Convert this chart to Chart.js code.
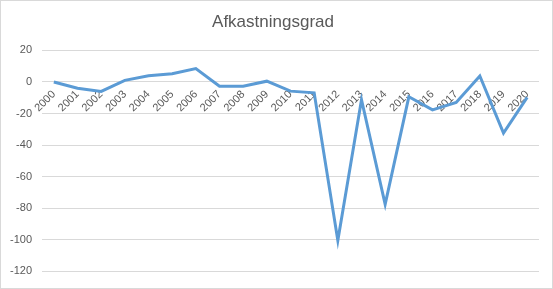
<!DOCTYPE html>
<html>
<head>
<meta charset="utf-8">
<script src="https://cdn.jsdelivr.net/npm/chart.js@4"></script>
<style>
  html, body { margin: 0; padding: 0; background: #fff; }
  #wrap { position: relative; width: 551px; height: 287px; border: 1px solid #d9d9d9; }
</style>
</head>
<body>
<div id="wrap"><canvas id="chart"></canvas></div>
<script>
// Afkastningsgrad per year
const years = ['2000', '2001', '2002', '2003', '2004', '2005', '2006', '2007', '2008', '2009', '2010',
               '2011', '2012', '2013', '2014', '2015', '2016', '2017', '2018', '2019', '2020'];
const afkastningsgrad = [0, -4, -6, 1, 4, 5.2, 8.5, -2.7, -2.7, 0.5, -5.8,
                         -6.9, -100.4, -11.2, -77.5, -9.4, -17.7, -13, 3.8, -32.3, -9.8];
const yTicks = { min: -120, max: 20, step: 20 };

const ctx = document.getElementById('chart');
new Chart(ctx, {
    type: 'line',
    data: {
        labels: years,
        datasets: [{
            label: 'Afkastningsgrad',
            data: afkastningsgrad,
            borderColor: '#5B9BD5',
            borderWidth: 3,
            pointRadius: 0,
            tension: 0,
            fill: false
        }]
    },
    options: {
        responsive: true,
        maintainAspectRatio: false,
        animation: false,
        layout: { padding: { left: 6, right: 13, top: 0, bottom: 1 } },
        plugins: {
            legend: { display: false },
            tooltip: { enabled: false },
            title: {
                display: true,
                text: 'Afkastningsgrad',
                color: '#595959',
                font: { family: '"Liberation Sans", sans-serif', size: 17, weight: 'normal' },
                padding: { top: 11, bottom: 18 }
            }
        },
        scales: {
            x: {
                position: { y: 0 },
                offset: true,
                grid: { display: false, drawTicks: false },
                border: { display: false },
                ticks: {
                    color: '#595959',
                    font: { family: '"Liberation Sans", sans-serif', size: 11 },
                    minRotation: 45,
                    maxRotation: 45,
                    autoSkip: false,
                    padding: 6
                }
            },
            y: {
                min: yTicks.min,
                max: yTicks.max,
                afterFit: function(scale) { scale.width = 35; },
                grid: { color: '#d9d9d9', drawTicks: false, lineWidth: 1 },
                border: { display: false },
                ticks: {
                    stepSize: yTicks.step,
                    color: '#595959',
                    font: { family: '"Liberation Sans", sans-serif', size: 11 },
                    padding: 10
                }
            }
        }
    }
});
</script>
</body>
</html>
